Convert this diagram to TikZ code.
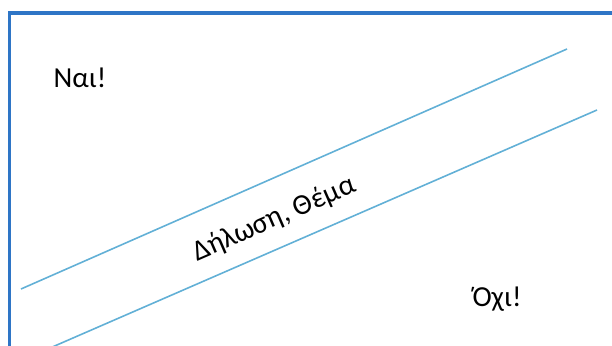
\documentclass[tikz,border=0pt]{standalone}
\usepackage{fontspec}
\setmainfont{Carlito}
\definecolor{frameblue}{HTML}{2E75C6}
\definecolor{stripeblue}{HTML}{62B0D6}
\begin{document}
\begin{tikzpicture}[x=1pt,y=-1pt,
  label/.style={inner sep=0pt, font=\fontsize{29}{34}\selectfont},
  stripe/.style={draw=stripeblue, line width=1.6pt}]
\useasboundingbox (0,0) rectangle (612,345);
% frame, running off the right and bottom edges
\draw[frameblue, line width=3.5pt] (9.5,360) -- (9.5,13) -- (630,13);
% the two diagonal stripes
\draw[stripe] (21,289) -- (567,49);
\draw[stripe] (50,348) -- (597,110);
% texts
\node[label] (yes) at (80,78) {Ναι!};
\node[label, rotate=23.5] (topic) at (274,219) {Δήλωση, Θέμα};
\node[label] (no) at (497,299) {Όχι!};
\end{tikzpicture}
\end{document}
